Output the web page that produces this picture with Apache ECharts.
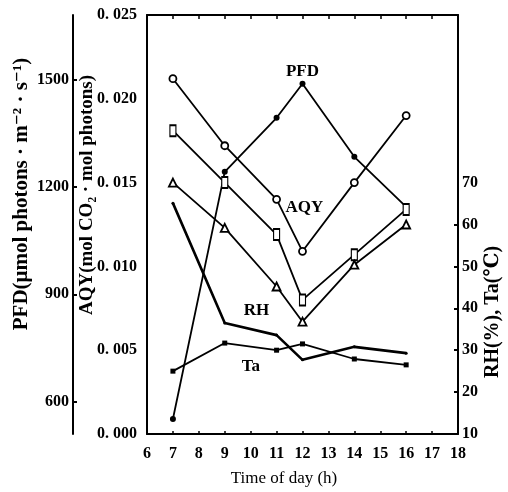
<!DOCTYPE html>
<html>
<head>
<meta charset="utf-8">
<script src="https://cdn.jsdelivr.net/npm/echarts@6/dist/echarts.min.js"></script>
<style>
html,body{margin:0;padding:0;background:#fff;}
#chart{width:508px;height:492px;}
</style>
</head>
<body>
<div id="chart"></div>
<script>
// ---- data ----
const hours = [7, 9, 11, 12, 14, 16];
const pfd = [552, 1242, 1393, 1488, 1284, 1144];            // μmol photons·m-2·s-1
const aqyCircle = [0.0212, 0.0172, 0.0140, 0.0109, 0.0150, 0.0190];
const aqySquare = [0.0181, 0.0150, 0.0119, 0.0080, 0.0107, 0.0134];
const aqyTriangle = [0.0150, 0.0123, 0.0088, 0.0067, 0.0101, 0.0125];
const rh = [65.1, 36.5, 33.6, 27.7, 30.8, 29.3];            // %
const ta = [25.0, 31.7, 30.0, 31.5, 27.9, 26.5];            // °C
const xTicks = [6, 7, 8, 9, 10, 11, 12, 13, 14, 15, 16, 17, 18];
const pfdTicks = [600, 900, 1200, 1500];
const rightTicks = [10, 20, 30, 40, 50, 60, 70];

const pair = (ys) => hours.map((h, i) => [h, ys[i]]);

const FONT = '"Liberation Serif", "DejaVu Serif", serif';
const lbl = { color: '#000', fontFamily: FONT, fontWeight: 'bold', fontSize: 16 };
const nameLbl = { color: '#000', fontFamily: FONT, fontWeight: 'bold', fontSize: 17, opacity: 1 };
const lineStyle = { color: '#000', width: 1.8 };

const chart = echarts.init(document.getElementById('chart'), null, { renderer: 'canvas' });
chart.setOption({
  backgroundColor: '#fff',
  animation: false,
  grid: { left: 147, right: 50, top: 15, bottom: 58 },
  xAxis: [{
    type: 'value', min: 6, max: 18, interval: 1,
    axisLine: { lineStyle: { color: '#000', width: 2 } },
    axisTick: { inside: true, length: 3, lineStyle: { color: '#000', width: 1.5 } },
    axisLabel: Object.assign({ margin: 12, customValues: xTicks }, lbl),
    splitLine: { show: false }
  }, {
    type: 'value', min: 6, max: 18, interval: 1, position: 'top',
    axisLine: { lineStyle: { color: '#000', width: 2 } },
    axisTick: { inside: true, length: 4, lineStyle: { color: '#000', width: 1.5 } },
    axisLabel: { show: false },
    splitLine: { show: false }
  }],
  yAxis: [{
    // AQY
    type: 'value', position: 'left', min: 0, max: 0.025, interval: 0.005,
    axisLine: { show: true, lineStyle: { color: '#000', width: 2 } },
    axisTick: { show: false },
    axisLabel: Object.assign({ margin: 10, formatter: v => v.toFixed(3).replace('.', '. ') }, lbl),
    splitLine: { show: false }
  }, {
    // PFD
    type: 'value', position: 'left', offset: 74, min: 510, max: 1680,
    axisLine: { show: true, lineStyle: { color: '#000', width: 2 } },
    axisTick: { show: true, inside: true, length: 4, customValues: pfdTicks, lineStyle: { color: '#000', width: 2 } },
    axisLabel: Object.assign({ margin: 4, customValues: pfdTicks, formatter: v => String(Math.round(v)) }, lbl),
    splitLine: { show: false }
  }, {
    // RH / Ta
    type: 'value', position: 'right', min: 10, max: 110, interval: 10,
    axisLine: { show: true, lineStyle: { color: '#000', width: 2 } },
    axisTick: { show: true, inside: true, length: 4, customValues: [20, 30, 40, 50, 60], lineStyle: { color: '#000', width: 2 } },
    axisLabel: Object.assign({ margin: 4, customValues: rightTicks, formatter: v => String(Math.round(v)) }, lbl),
    splitLine: { show: false }
  }],
  series: [{
    name: 'PFD', type: 'line', yAxisIndex: 1, data: pair(pfd),
    symbol: 'circle', symbolSize: 6, lineStyle: lineStyle,
    itemStyle: { color: '#000' }
  }, {
    name: 'AQY-circle', type: 'line', yAxisIndex: 0, data: pair(aqyCircle),
    symbol: 'circle', symbolSize: 7, lineStyle: lineStyle,
    itemStyle: { color: '#fff', borderColor: '#000', borderWidth: 1.8 }
  }, {
    name: 'AQY-square', type: 'line', yAxisIndex: 0, data: pair(aqySquare),
    symbol: 'rect', symbolSize: [6, 11], lineStyle: lineStyle,
    itemStyle: { color: '#fff', borderColor: '#000', borderWidth: 1.5 }
  }, {
    name: 'AQY-triangle', type: 'line', yAxisIndex: 0, data: pair(aqyTriangle),
    symbol: 'triangle', symbolSize: 8, lineStyle: lineStyle,
    itemStyle: { color: '#fff', borderColor: '#000', borderWidth: 1.8 }
  }, {
    name: 'RH', type: 'line', yAxisIndex: 2, data: pair(rh),
    symbol: 'circle', symbolSize: 3, lineStyle: { color: '#000', width: 2.6 },
    itemStyle: { color: '#000' }
  }, {
    name: 'Ta', type: 'line', yAxisIndex: 2, data: pair(ta),
    symbol: 'rect', symbolSize: 5, lineStyle: lineStyle,
    itemStyle: { color: '#000' }
  }, {
    // series name labels, anchored to data points
    type: 'scatter', yAxisIndex: 1, silent: true, symbolSize: 0,
    itemStyle: { opacity: 1, color: '#000' },
    data: [{ value: [hours[3], pfd[3]], label: { show: true, formatter: 'PFD', position: 'top', distance: 4 } }],
    label: nameLbl
  }, {
    type: 'scatter', yAxisIndex: 0, silent: true, symbolSize: 0,
    itemStyle: { opacity: 1, color: '#000' },
    data: [{ value: [hours[2], aqyCircle[2]], label: { show: true, formatter: 'AQY', position: 'right', offset: [4, 8] } }],
    label: nameLbl
  }, {
    type: 'scatter', yAxisIndex: 2, silent: true, symbolSize: 0,
    itemStyle: { opacity: 1, color: '#000' },
    data: [
      { value: [hours[1], rh[1]], label: { show: true, formatter: 'RH', position: 'right', offset: [14, -12] } },
      { value: [hours[1], ta[1]], label: { show: true, formatter: 'Ta', position: 'right', offset: [12, 24] } }
    ],
    label: nameLbl
  }],
  graphic: [{
    type: 'text', x: 22, y: 194, rotation: Math.PI / 2,
    style: { text: 'PFD(μmol photons · m⁻² · s⁻¹)', font: 'bold 21px ' + FONT, fill: '#000', align: 'center', verticalAlign: 'middle' }
  }, {
    type: 'text', x: 87, y: 195, rotation: Math.PI / 2,
    style: { text: 'AQY(mol CO₂ · mol photons)', font: 'bold 19px ' + FONT, fill: '#000', align: 'center', verticalAlign: 'middle' }
  }, {
    type: 'text', x: 493, y: 312, rotation: Math.PI / 2,
    style: { text: 'RH(%), Ta(℃)', font: 'bold 20px ' + FONT, fill: '#000', align: 'center', verticalAlign: 'middle' }
  }, {
    type: 'text', x: 284, y: 479,
    style: { text: 'Time of day (h)', font: '17px ' + FONT, fill: '#000', align: 'center', verticalAlign: 'middle' }
  }]
});
</script>
</body>
</html>
